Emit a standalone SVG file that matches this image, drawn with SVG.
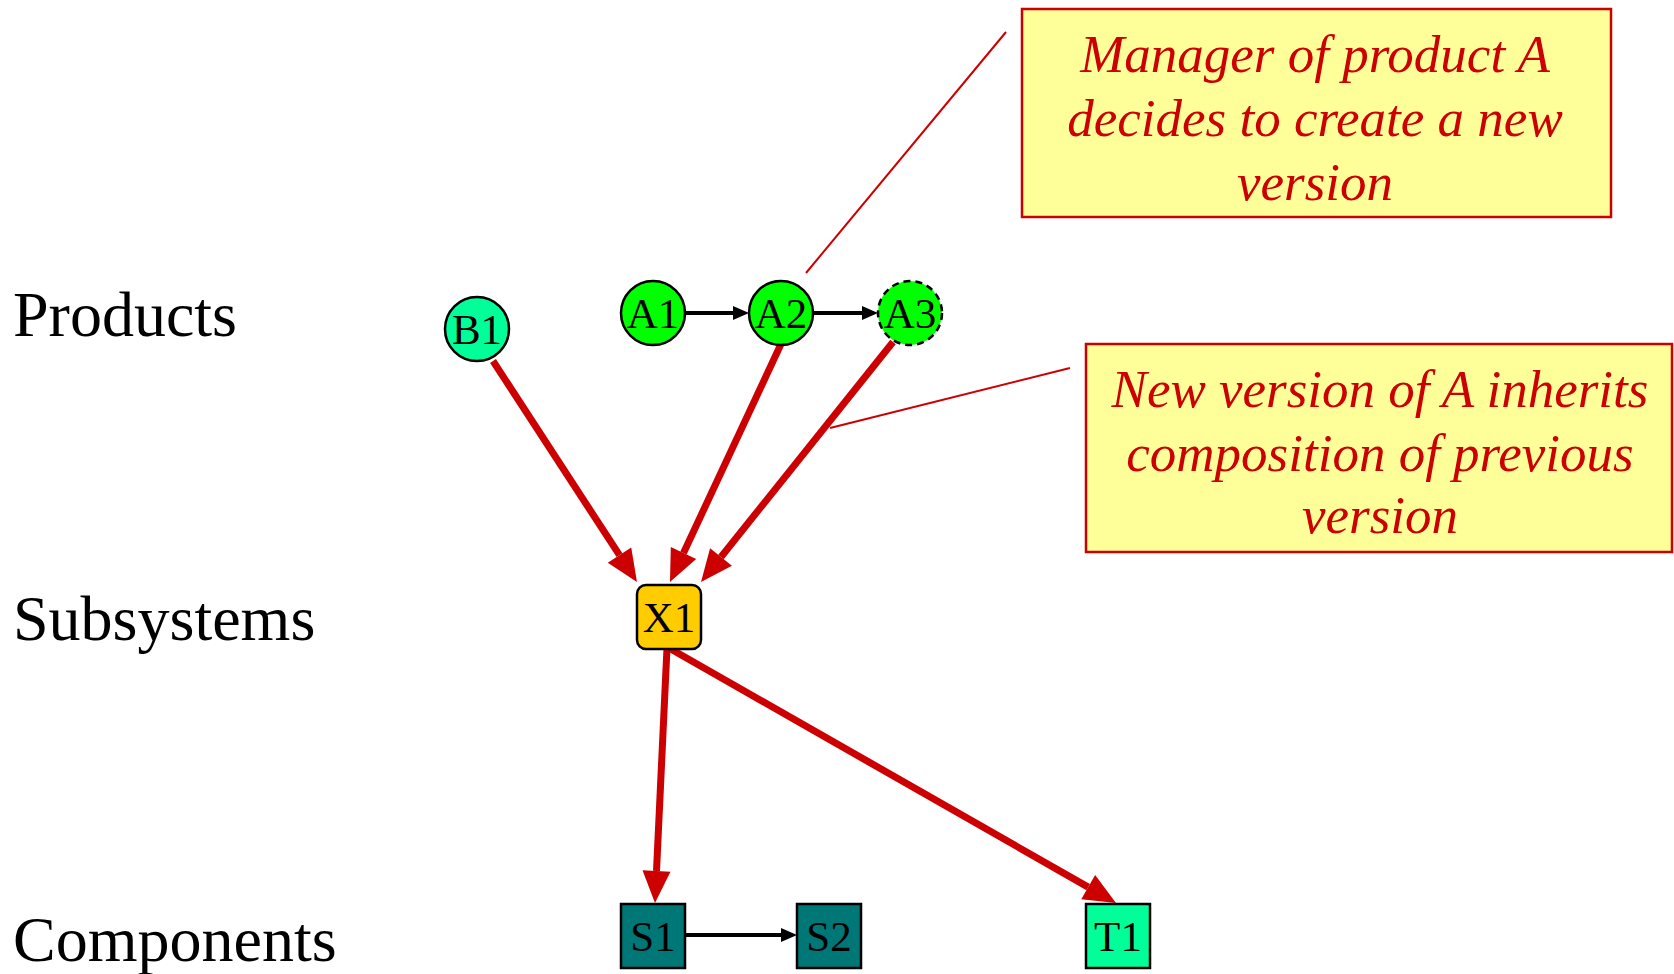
<svg xmlns="http://www.w3.org/2000/svg" width="1674" height="974" viewBox="0 0 1674 974">
<style>
.lbl{font-family:"Liberation Serif","Times New Roman",serif;font-size:64px;fill:#000}
.nt{font-family:"Liberation Serif","Times New Roman",serif;font-size:43px;fill:#000;text-anchor:middle}
.ct{font-family:"Liberation Serif","Times New Roman",serif;font-style:italic;font-size:53px;fill:#CC0000;text-anchor:middle}
.box{fill:#FFFF99;stroke:#CC0000;stroke-width:2.5}
.lead{stroke:#CC0000;stroke-width:2;fill:none}
.red{stroke:#CC0000;stroke-width:7;fill:none;marker-end:url(#rh)}
.blk{stroke:#000;stroke-width:4;fill:none;marker-end:url(#bh)}
.nd{stroke:#000;stroke-width:2.5}
</style>
<defs>
<marker id="rh" markerUnits="userSpaceOnUse" markerWidth="32" markerHeight="28" viewBox="0 0 32 28" refX="0" refY="14" orient="auto" overflow="visible"><path d="M0,0 L32,14 L0,28 z" fill="#CC0000"/></marker>
<marker id="bh" markerUnits="userSpaceOnUse" markerWidth="16" markerHeight="14" viewBox="0 0 16 14" refX="0" refY="7" orient="auto" overflow="visible"><path d="M0,0 L16,7 L0,14 z" fill="#000"/></marker>
</defs>
<rect width="1674" height="974" fill="#fff"/>
<g id="labels">
<text class="lbl" x="13" y="336">Products</text>
<text class="lbl" x="13" y="640">Subsystems</text>
<text class="lbl" x="13" y="961">Components</text>
</g>
<g id="connectors">
<line class="red" x1="493" y1="361" x2="619.5" y2="555.2"/>
<line class="red" x1="781" y1="344" x2="683.5" y2="553.0"/>
<line class="red" x1="893" y1="342" x2="721.0" y2="557.0"/>
<line class="red" x1="667" y1="648" x2="656.5" y2="871"/>
<line class="red" x1="669" y1="648" x2="1088.2" y2="887.1"/>
<line class="blk" x1="685" y1="313" x2="733" y2="313"/>
<line class="blk" x1="813" y1="313" x2="862" y2="313"/>
<line class="blk" x1="685" y1="935" x2="781" y2="935"/>
<line class="lead" x1="1006" y1="32" x2="806" y2="273"/>
<line class="lead" x1="1070" y1="368" x2="830" y2="428"/>
</g>
<g id="B1"><circle class="nd" cx="477" cy="329" r="32" fill="#00FF99"/><text class="nt" x="477" y="344">B1</text></g>
<g id="A1"><circle class="nd" cx="653" cy="313" r="32" fill="#00FF00"/><text class="nt" x="653" y="328">A1</text></g>
<g id="A2"><circle class="nd" cx="781" cy="313" r="32" fill="#00FF00"/><text class="nt" x="781" y="328">A2</text></g>
<g id="A3"><circle class="nd" cx="910" cy="313" r="32" fill="#00FF00" stroke-dasharray="7,5"/><text class="nt" x="910" y="328">A3</text></g>
<g id="X1"><rect class="nd" x="637" y="585" width="64" height="64" rx="9" fill="#FFCC00"/><text class="nt" x="669" y="632">X1</text></g>
<g id="S1"><rect class="nd" x="621" y="904" width="64" height="64" fill="#007777"/><text class="nt" x="653" y="951">S1</text></g>
<g id="S2"><rect class="nd" x="797" y="904" width="64" height="64" fill="#007777"/><text class="nt" x="829" y="951">S2</text></g>
<g id="T1"><rect class="nd" x="1086" y="904" width="64" height="64" fill="#00FF99"/><text class="nt" x="1118" y="951">T1</text></g>
<g id="note1"><rect class="box" x="1022" y="9" width="589" height="208"/>
<text class="ct" x="1315" y="72">Manager of product A</text>
<text class="ct" x="1315" y="136">decides to create a new</text>
<text class="ct" x="1315" y="200">version</text></g>
<g id="note2"><rect class="box" x="1086" y="344" width="586" height="208"/>
<text class="ct" x="1380" y="407">New version of A inherits</text>
<text class="ct" x="1380" y="471">composition of previous</text>
<text class="ct" x="1380" y="533">version</text></g>
</svg>
